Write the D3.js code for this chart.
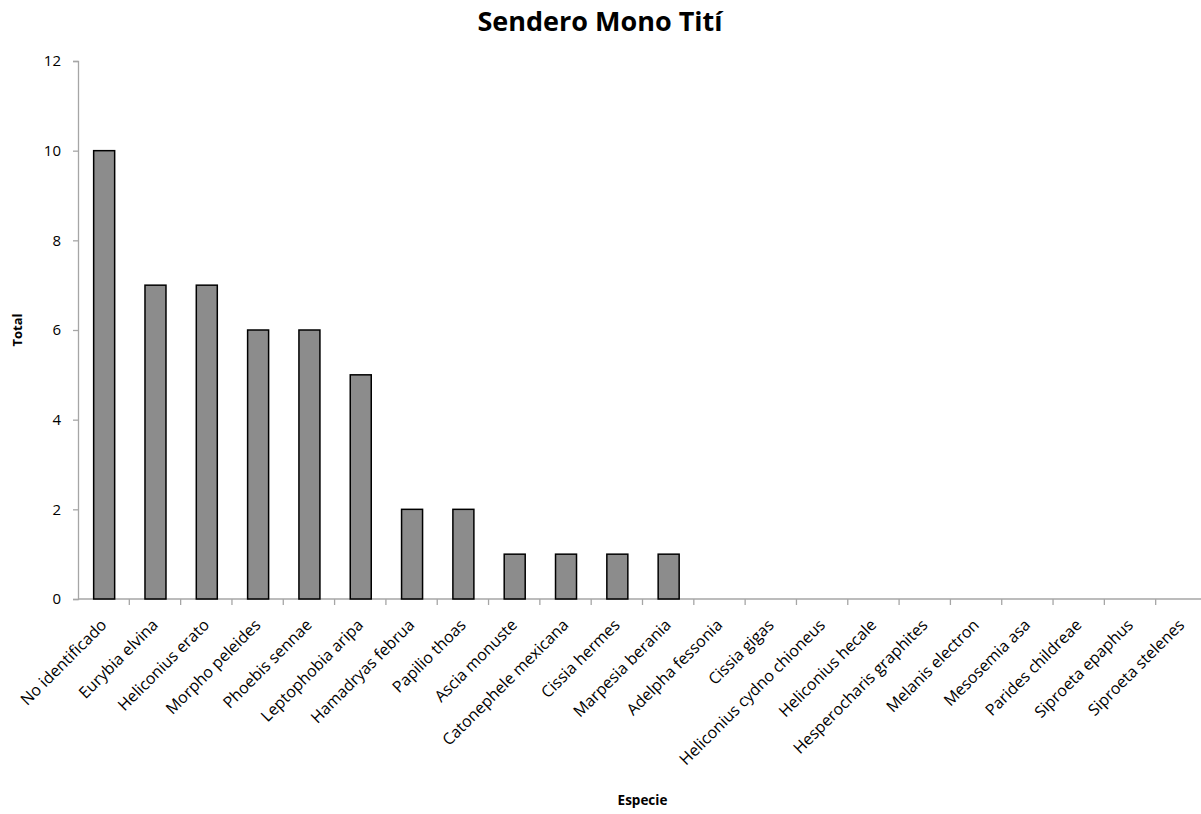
<!DOCTYPE html>
<html>
<head>
<meta charset="utf-8">
<script src="https://cdn.jsdelivr.net/npm/d3@7"></script>
<style>
  body { margin: 0; background: #fff; }
  svg { display: block; font-family: "Open Sans", "Noto Sans", sans-serif; }
</style>
</head>
<body>
<svg id="chart" width="1201" height="814"></svg>
<script>
// Butterfly species counted along the trail
const species = [
  "No identificado", "Eurybia elvina", "Heliconius erato", "Morpho peleides",
  "Phoebis sennae", "Leptophobia aripa", "Hamadryas februa", "Papilio thoas",
  "Ascia monuste", "Catonephele mexicana", "Cissia hermes", "Marpesia berania",
  "Adelpha fessonia", "Cissia gigas", "Heliconius cydno chioneus", "Heliconius hecale",
  "Hesperocharis graphites", "Melanis electron", "Mesosemia asa", "Parides childreae",
  "Siproeta epaphus", "Siproeta stelenes"
];
const totals = [10, 7, 7, 6, 6, 5, 2, 2, 1, 1, 1, 1, 0, 0, 0, 0, 0, 0, 0, 0, 0, 0];
const yTicks = [0, 2, 4, 6, 8, 10, 12];

const svg = d3.select("#chart");
// plot area runs past the right edge of the canvas
const plotLeft = 78, plotRight = 1207, plotTop = 61, plotBottom = 599;

const x = d3.scaleBand().domain(species).range([plotLeft, plotRight]).paddingInner(0).paddingOuter(0);
const y = d3.scaleLinear().domain([0, 12]).range([plotBottom, plotTop]);

const axisColor = "#a6a6a6";

// Title
svg.append("text")
  .attr("x", 600).attr("y", 31)
  .attr("text-anchor", "middle")
  .attr("font-weight", "bold")
  .attr("font-size", 27)
  .text("Sendero Mono Tití");

// Y axis
const yAxis = svg.append("g")
  .attr("transform", `translate(${plotLeft},0)`)
  .call(d3.axisLeft(y).tickValues(yTicks).tickSize(5).tickPadding(12).tickFormat(d3.format("d")));
yAxis.selectAll("path, line").attr("stroke", axisColor).attr("stroke-width", 1.3);
yAxis.selectAll("text").attr("font-size", 15).attr("fill", "#000").attr("font-family", "Open Sans");

// X axis: ticks sit on category boundaries
const xAxisG = svg.append("g").attr("transform", `translate(0,${plotBottom})`);
xAxisG.append("line")
  .attr("x1", plotLeft).attr("x2", plotRight)
  .attr("stroke", axisColor).attr("stroke-width", 1.3);
const boundaries = species.map(s => x(s)).concat([x(species[species.length - 1]) + x.bandwidth()]);
xAxisG.selectAll("line.tick")
  .data(boundaries.slice(1))
  .join("line")
  .attr("class", "tick")
  .attr("x1", d => d).attr("x2", d => d)
  .attr("y1", 0).attr("y2", 6)
  .attr("stroke", axisColor).attr("stroke-width", 1.3);

// Category labels, rotated
xAxisG.selectAll("text.cat")
  .data(species)
  .join("text")
  .attr("class", "cat")
  .attr("font-size", 16)
  .attr("text-anchor", "end")
  .attr("transform", d => `translate(${x(d) + x.bandwidth() / 2 + 4},${27}) rotate(-45)`)
  .text(d => d);

// Bars
const barW = 21;
svg.append("g").selectAll("rect")
  .data(species.map((s, i) => ({ s, v: totals[i] })).filter(d => d.v > 0))
  .join("rect")
  .attr("x", d => x(d.s) + x.bandwidth() / 2 - barW / 2 + 0.5)
  .attr("y", d => y(d.v))
  .attr("width", barW)
  .attr("height", d => y(0) - y(d.v))
  .attr("fill", "#8c8c8c")
  .attr("stroke", "#000")
  .attr("stroke-width", 1.5);

// Axis titles
svg.append("text")
  .attr("transform", "translate(22,330) rotate(-90)")
  .attr("text-anchor", "middle")
  .attr("font-weight", "bold")
  .attr("font-size", 13)
  .text("Total");

svg.append("text")
  .attr("x", (plotLeft + plotRight) / 2).attr("y", 805)
  .attr("text-anchor", "middle")
  .attr("font-weight", "bold")
  .attr("font-size", 13.5)
  .text("Especie");
</script>
</body>
</html>
